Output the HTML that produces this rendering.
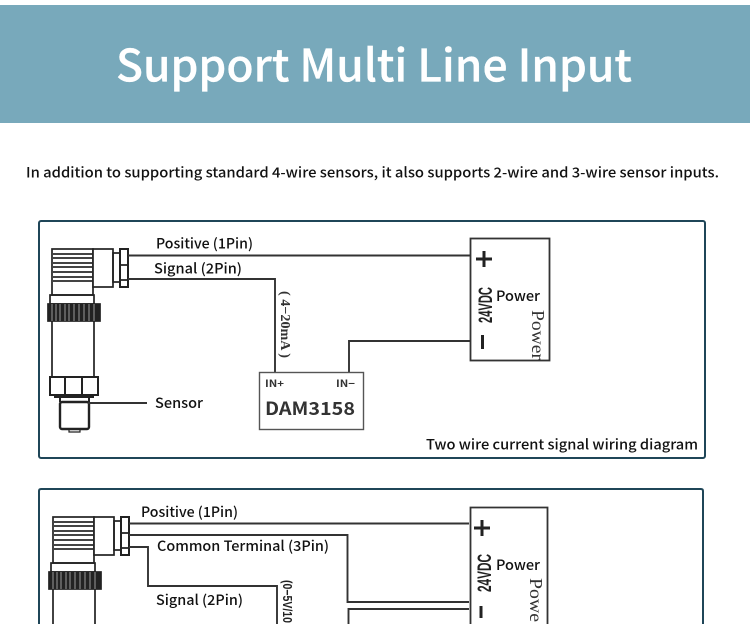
<!DOCTYPE html>
<html><head><meta charset="utf-8"><style>
html,body{margin:0;padding:0;background:#fff;width:750px;height:624px;overflow:hidden}
svg{display:block}
text{font-family:"Noto Sans CJK SC","Liberation Sans",sans-serif;fill:#111}
.l{font-size:14px;font-weight:500}
.w{fill:none;stroke:#333;stroke-width:1.9}
.c{font-family:"Liberation Sans",sans-serif;font-weight:700;fill:#222}
.s{font-family:"Liberation Serif",serif;fill:#333}
</style></head><body>
<svg width="750" height="624" viewBox="0 0 750 624" xmlns="http://www.w3.org/2000/svg">
<defs>
<g id="head" fill="none" stroke="#222" stroke-width="1.700">
<rect x="52" y="249" width="41" height="46" fill="#fff"/>
<path d="M52 254H93M52 258H93M52 263H93M52 267H93M52 272H93M52 277H93M52 281H93" stroke="#444" stroke-width="2"/>
<rect x="93" y="249" width="20" height="38" fill="#fff"/>
<rect x="113" y="253" width="7" height="29"/>
<rect x="120" y="249" width="8" height="38" stroke-width="2"/>
<path d="M120 265H128M120 280H128"/>
<rect x="50" y="295" width="44" height="9"/>
<rect x="48" y="304" width="52" height="17" fill="#222" stroke="#222"/>
<path d="M52 304V321M56 304V321M60 304V321M65 304V321M69 304V321M74 304V321M79 304V321M84 304V321M89 304V321M94 304V321" stroke="#999" stroke-width="1"/>
</g>
</defs>
<rect x="0" y="5" width="750" height="118" fill="#78a9bb"/>
<text x="116" y="81.500" font-size="44.500" textLength="516" lengthAdjust="spacingAndGlyphs" style="fill:#fff;stroke:#fff;stroke-width:.3;font-weight:500">Support Multi Line Input</text>
<text x="26" y="177.500" font-size="14" textLength="693" lengthAdjust="spacingAndGlyphs" style="font-weight:500">In addition to supporting standard 4-wire sensors, it also supports 2-wire and 3-wire sensor inputs.</text>

<rect x="39" y="221" width="666" height="237" rx="2" fill="#fff" stroke="#1f4658" stroke-width="2"/>
<use href="#head"/>
<g fill="none" stroke="#222" stroke-width="1.700">
<path d="M52 321V376M94 321V376"/>
<rect x="50" y="377" width="48" height="18" stroke-width="2"/>
<path d="M65 377V395M82 377V395" stroke-width="2"/>
<path d="M54 397H94M60 397V402M89 397V402" stroke-width="2"/>
<rect x="60" y="402" width="29" height="27" rx="2" stroke-width="2.400"/>
<path d="M69 429V432H80V429" stroke-width="1.200"/>
</g>
<path class="w" d="M128 255.500H470M128 279H275V372M349 372V341H470M88 403H147"/>
<rect x="470.500" y="238.500" width="79" height="122" fill="#fff" stroke="#333" stroke-width="1.800"/>
<path d="M484 251V267M476 259H492M482.500 335V349" stroke="#222" stroke-width="3" fill="none"/>
<rect x="259.500" y="372.500" width="104" height="57" fill="#fff" stroke="#555" stroke-width="1.400"/>
<text class="l" x="156" y="248.500" textLength="97" lengthAdjust="spacingAndGlyphs">Positive (1Pin)</text>
<text class="l" x="154" y="273.500" textLength="88" lengthAdjust="spacingAndGlyphs">Signal (2Pin)</text>
<text class="l" x="155" y="408" textLength="48" lengthAdjust="spacingAndGlyphs">Sensor</text>
<text class="l" x="496" y="301" textLength="44" lengthAdjust="spacingAndGlyphs">Power</text>
<text class="l" x="426" y="449.500" textLength="272" lengthAdjust="spacingAndGlyphs">Two wire current signal wiring diagram</text>
<text x="265" y="387" font-size="10" textLength="19" lengthAdjust="spacingAndGlyphs" style="font-weight:700;fill:#333">IN+</text>
<text x="336" y="387" font-size="10" textLength="19" lengthAdjust="spacingAndGlyphs" style="font-weight:700;fill:#333">IN−</text>
<text x="265" y="415" font-size="18" textLength="90" lengthAdjust="spacingAndGlyphs" style="font-weight:700;fill:#333">DAM3158</text>
<text class="c" transform="translate(492,323) rotate(-90)" font-size="19" textLength="36" lengthAdjust="spacingAndGlyphs">24VDC</text>
<text class="s" transform="translate(532,310) rotate(90)" font-size="18" textLength="50" lengthAdjust="spacingAndGlyphs">Power</text>
<text class="s" transform="translate(281,291) rotate(90)" font-size="14" textLength="67" lengthAdjust="spacingAndGlyphs" style="font-weight:700">( 4−20mA )</text>

<path d="M39 624V491Q39 489 41 489H701Q703 489 703 491V624" fill="#fff" stroke="#1f4658" stroke-width="2"/>
<use href="#head" transform="translate(1,268)"/>
<path d="M53 589V624M95 589V624" fill="none" stroke="#222" stroke-width="1.700"/>
<path class="w" d="M129 523.500H469M129 535H347.500V602H469M129 547H148V586H277V624M348.500 624V609H469"/>
<path d="M470.500 624V507.500H547.500V624" fill="#fff" stroke="#333" stroke-width="1.800"/>
<path d="M482 520V536M474 528H490M481 606V618" stroke="#222" stroke-width="3" fill="none"/>
<text class="l" x="141" y="517" textLength="97" lengthAdjust="spacingAndGlyphs">Positive (1Pin)</text>
<text class="l" x="157" y="551" textLength="172" lengthAdjust="spacingAndGlyphs">Common Terminal (3Pin)</text>
<text class="l" x="156" y="605" textLength="87" lengthAdjust="spacingAndGlyphs">Signal (2Pin)</text>
<text class="l" x="496" y="570" textLength="44" lengthAdjust="spacingAndGlyphs">Power</text>
<text class="c" transform="translate(491,592) rotate(-90)" font-size="19" textLength="38" lengthAdjust="spacingAndGlyphs">24VDC</text>
<text class="s" transform="translate(530,578) rotate(90)" font-size="18" textLength="44" lengthAdjust="spacingAndGlyphs">Powe</text>
<text class="c" transform="translate(283,580) rotate(90)" font-size="13" textLength="43" lengthAdjust="spacingAndGlyphs">(0−5V/10</text>
</svg>
</body></html>
